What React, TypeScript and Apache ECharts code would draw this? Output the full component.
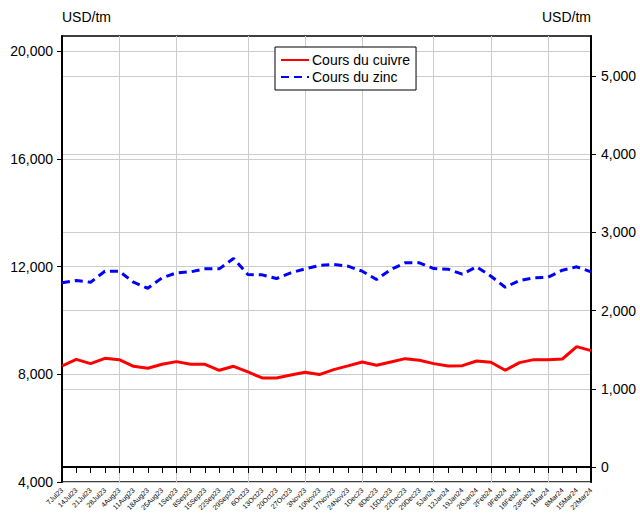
import React, { useEffect, useRef } from "react";
import * as echarts from "echarts";

const dates = [
  "7Jul23", "14Jul23", "21Jul23", "28Jul23", "4Aug23", "11Aug23", "18Aug23", "25Aug23",
  "1Sep23", "8Sep23", "15Sep23", "22Sep23", "29Sep23", "6Oct23", "13Oct23", "20Oct23",
  "27Oct23", "3Nov23", "10Nov23", "17Nov23", "24Nov23", "1Dec23", "8Dec23", "15Dec23",
  "22Dec23", "29Dec23", "5Jan24", "12Jan24", "19Jan24", "26Jan24", "2Feb24", "9Feb24",
  "16Feb24", "23Feb24", "1Mar24", "8Mar24", "15Mar24", "22Mar24",
];

const copper = [
  8307, 8555, 8396, 8593, 8543, 8296, 8222, 8370, 8469, 8370, 8370, 8148, 8296, 8086,
  7864, 7864, 7975, 8074, 7988, 8173, 8310, 8456, 8333, 8456, 8580, 8519, 8395, 8308,
  8320, 8494, 8444, 8148, 8432, 8543, 8543, 8567, 9025, 8876,
];

const zinc = [
  2355, 2385, 2363, 2504, 2504, 2363, 2286, 2419, 2483, 2496, 2534, 2534, 2667, 2461,
  2457, 2410, 2483, 2534, 2577, 2590, 2568, 2504, 2397, 2526, 2611, 2611, 2538, 2530,
  2466, 2560, 2440, 2299, 2385, 2419, 2427, 2517, 2560, 2496,
];

const leftTicks = [4000, 8000, 12000, 16000, 20000];
const rightTicks = [0, 1000, 2000, 3000, 4000, 5000];

const monthStarts = [4, 8, 13, 17, 21, 26, 30, 34];

const FONT = "'Liberation Sans', Arial, sans-serif";

const fmt = (v: number) => v.toLocaleString("en-US");

export default function App() {
  const ref = useRef<HTMLDivElement>(null);
  useEffect(() => {
    if (!ref.current) return;
    const chart = echarts.init(ref.current, null, { renderer: "svg" });
    chart.setOption({
      animation: false,
      backgroundColor: "#ffffff",
      textStyle: { fontFamily: FONT },
      grid: {
        left: 62,
        right: 49,
        top: 36,
        bottom: 46,
        show: true,
        borderColor: "#000",
        borderWidth: 1.5,
        backgroundColor: "transparent",
      },
      legend: {
        left: 275,
        top: 47,
        orient: "vertical",
        backgroundColor: "#fff",
        borderColor: "#000",
        borderWidth: 1,
        padding: [6, 6, 6, 5],
        itemGap: 3,
        itemWidth: 28,
        itemHeight: 12,
        itemStyle: { color: "rgba(0,0,0,0)", borderWidth: 0, opacity: 0 },
        textStyle: { fontFamily: FONT, fontSize: 14, color: "#000", padding: [0, 0, 0, -2] },
        data: ["Cours du cuivre", "Cours du zinc"],
      },
      xAxis: {
        type: "category",
        data: dates,
        boundaryGap: false,
        axisLine: { lineStyle: { color: "#000", width: 2 } },
        axisTick: { show: true, length: 6, interval: 0, lineStyle: { color: "#000" } },
        axisLabel: {
          interval: 0,
          rotate: 45,
          fontSize: 7,
          fontFamily: FONT,
          color: "#000",
          margin: 7,
        },
        splitLine: {
          show: true,
          interval: (i: number) => monthStarts.includes(i),
          lineStyle: { color: "#cccccc", width: 1 },
        },
      },
      yAxis: [
        {
          type: "value",
          position: "left",
          min: 4000,
          max: 20560,
          name: "USD/tm",
          nameLocation: "end",
          nameGap: 19,
          nameTextStyle: { fontFamily: FONT, fontSize: 14, color: "#000", align: "left", verticalAlign: "middle" },
          axisLine: { show: true, lineStyle: { color: "#000", width: 2 } },
          axisTick: { show: true, length: 5, customValues: leftTicks, lineStyle: { color: "#000" } },
          axisLabel: {
            fontSize: 14,
            fontFamily: FONT,
            color: "#000",
            margin: 9,
            customValues: leftTicks,
            formatter: (v: number) => fmt(v),
          },
          splitLine: { show: true, lineStyle: { color: "#cccccc", width: 1 } },
        },
        {
          type: "value",
          position: "right",
          min: -192,
          max: 5512,
          name: "USD/tm",
          nameLocation: "end",
          nameGap: 19,
          nameTextStyle: { fontFamily: FONT, fontSize: 14, color: "#000", align: "right", verticalAlign: "middle" },
          axisLine: { show: true, lineStyle: { color: "#000", width: 2 } },
          axisTick: { show: true, length: 5, customValues: rightTicks, lineStyle: { color: "#000" } },
          axisLabel: {
            fontSize: 14,
            fontFamily: FONT,
            color: "#000",
            margin: 10,
            customValues: rightTicks,
            formatter: (v: number) => fmt(v),
          },
          splitLine: { show: true, lineStyle: { color: "#cccccc", width: 1 } },
        },
      ],
      series: [
        {
          name: "Cours du cuivre",
          type: "line",
          yAxisIndex: 0,
          data: copper,
          symbol: "none",
          lineStyle: { color: "#ff0000", width: 3 },
          itemStyle: { color: "#ff0000" },
        },
        {
          name: "Cours du zinc",
          type: "line",
          yAxisIndex: 1,
          data: zinc,
          symbol: "none",
          lineStyle: { color: "#0000ff", width: 3, type: [8, 5] },
          itemStyle: { color: "#0000ff" },
        },
      ],
    });
    return () => chart.dispose();
  }, []);
  return (
    <div
      ref={ref}
      style={{ position: "fixed", left: 0, top: 0, width: 640, height: 528 }}
    />
  );
}
